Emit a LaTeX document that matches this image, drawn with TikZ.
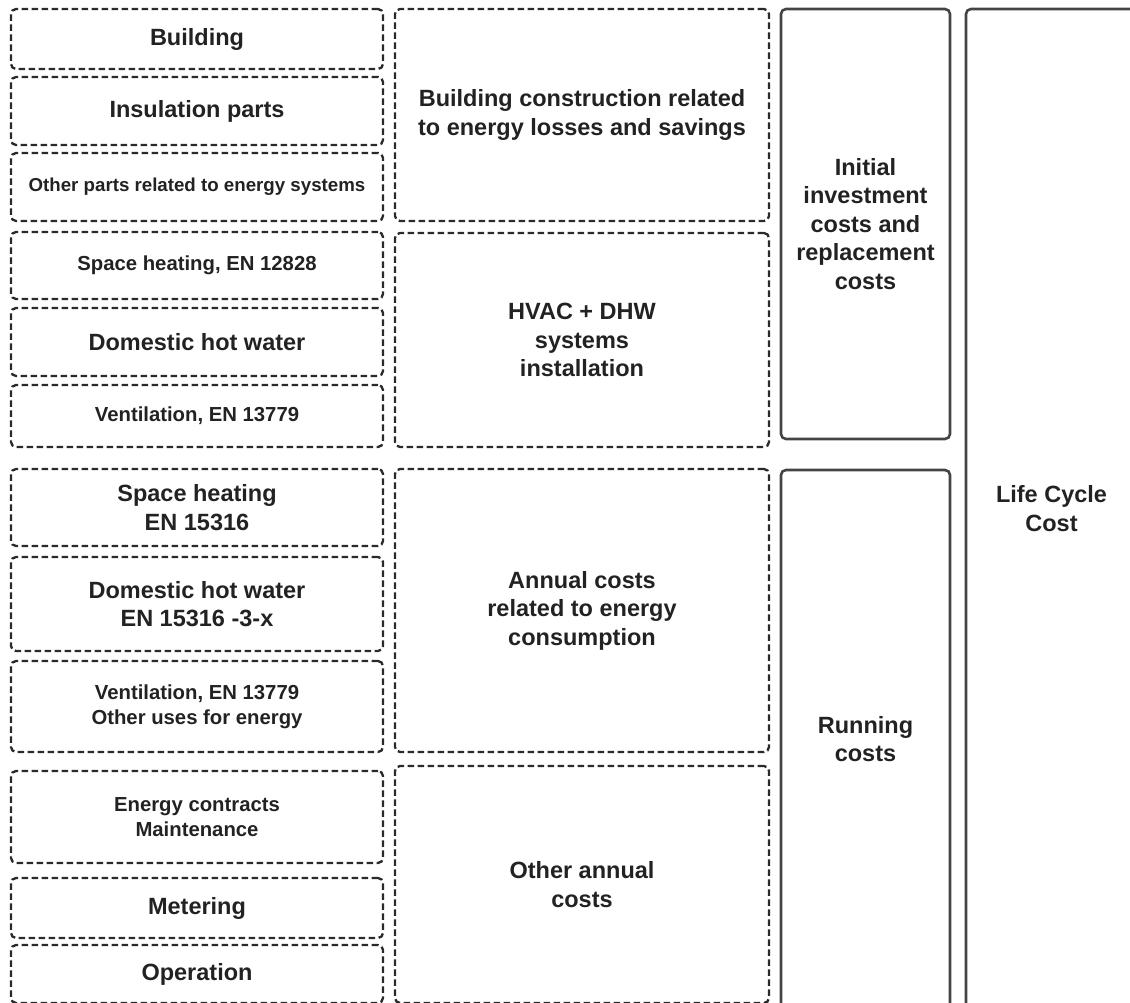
\documentclass[tikz,border=0pt]{standalone}
\usepackage{fontspec}
\setmainfont{Liberation Sans}
\definecolor{edge}{HTML}{2A2A2A}
\definecolor{solidedge}{HTML}{444444}
\definecolor{ink}{HTML}{222222}
\begin{document}
\begin{tikzpicture}[x=1pt,y=-1pt,
  base/.style={align=center, inner sep=0pt, text=ink,
    font=\bfseries\fontsize{23.5}{28.5}\selectfont},
  dbox/.style={base, draw=edge, line width=2.3pt, rounded corners=5pt,
    dash pattern=on 6.5pt off 3.5pt},
  sbox/.style={base, draw=solidedge, line width=2.6pt, rounded corners=5pt},
  fsmall/.style={font=\bfseries\fontsize{20.3}{25}\selectfont},
  fxsmall/.style={font=\bfseries\fontsize{18.7}{23}\selectfont},
  c1/.style={dbox, minimum width=372pt},
  c2/.style={dbox, minimum width=374pt}]
\useasboundingbox (0,0) rectangle (1130,1003);
\clip (0,0) rectangle (1130,1003);
% column 1
\node[c1, minimum height=60pt] (b1) at (197,39) {Building};
\node[c1, minimum height=68pt] (b2) at (197,111) {Insulation parts};
\node[c1, fxsmall, minimum height=68pt] (b3) at (197,187) {Other parts related to energy systems};
\node[c1, fsmall, minimum height=67pt] (b4) at (197,265.5) {Space heating, EN 12828};
\node[c1, minimum height=68pt] (b5) at (197,342) {Domestic hot water};
\node[c1, fsmall, minimum height=62pt] (b6) at (197,416) {Ventilation, EN 13779};
\node[c1, minimum height=77pt] (b7) at (197,507.5) {Space heating\\EN 15316};
\node[c1, minimum height=94pt] (b8) at (197,604) {Domestic hot water\\EN 15316 -3-x};
\node[c1, fsmall, minimum height=91pt] (b9) at (197,706.5) {Ventilation, EN 13779\\Other uses for energy};
\node[c1, fsmall, minimum height=92pt] (b10) at (197,817) {Energy contracts\\Maintenance};
\node[c1, minimum height=60pt] (b11) at (197,908) {Metering};
\node[c1, minimum height=58pt] (b12) at (197,974) {Operation};
% column 2
\node[c2, minimum height=212pt] (g1) at (582,115) {Building construction related\\to energy losses and savings};
\node[c2, minimum height=214pt] (g2) at (582,340) {HVAC + DHW\\systems\\installation};
\node[c2, minimum height=283pt] (g3) at (582,610.5) {Annual costs\\related to energy\\consumption};
\node[c2, minimum height=237pt] (g4) at (582,884.5) {Other annual\\costs};
% column 3
\node[sbox, minimum width=169pt, minimum height=430pt] (k1) at (865.5,224) {Initial\\investment\\costs and\\replacement\\costs};
\node[sbox, minimum width=169pt, minimum height=538pt] (k2) at (865.5,739) {Running\\costs};
% column 4
\node[sbox, minimum width=171pt, minimum height=999pt] (lcc) at (1051.5,508.5) {Life Cycle\\Cost};
\end{tikzpicture}
\end{document}
